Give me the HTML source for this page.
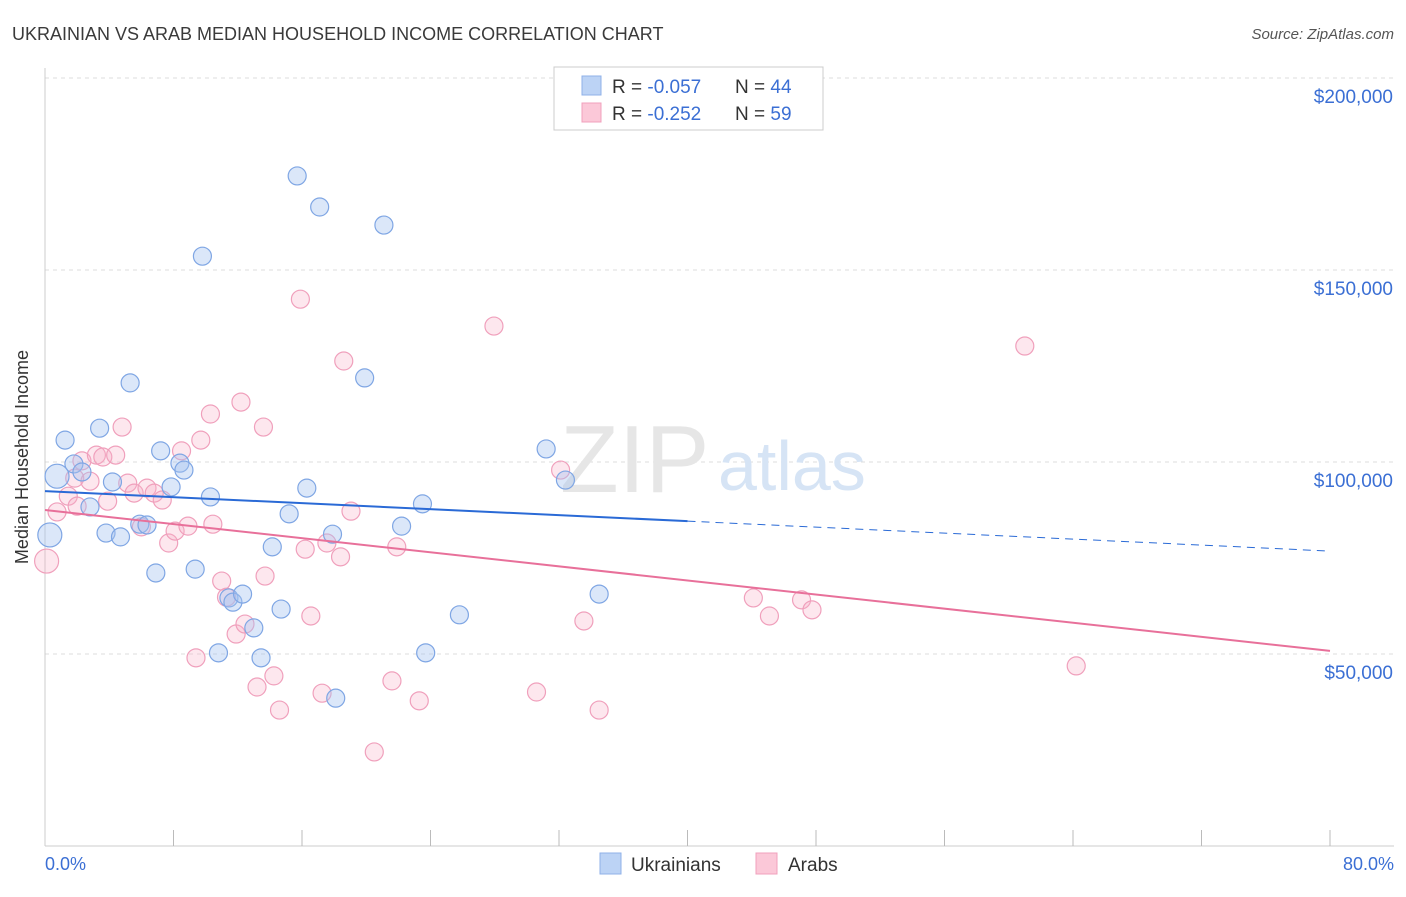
<!DOCTYPE html>
<html><head><meta charset="utf-8"><style>
body{margin:0;background:#fff;font-family:"Liberation Sans",sans-serif}
svg text{font-family:"Liberation Sans",sans-serif}
</style></head><body>
<svg id="chart" width="1406" height="892" xmlns="http://www.w3.org/2000/svg">
<text x="12" y="40" font-size="18" fill="#3a3a3a">UKRAINIAN VS ARAB MEDIAN HOUSEHOLD INCOME CORRELATION CHART</text>
<text x="1394" y="39" font-size="15" fill="#555" text-anchor="end" font-style="italic">Source: ZipAtlas.com</text>
<g id="grid"></g>
<text x="560" y="492" font-size="96" fill="#e6e6e6" font-family="Liberation Serif">ZIP</text>
<text x="718" y="490" font-size="70" fill="#d6e4f5">atlas</text>
<line x1="45" y1="68" x2="45" y2="846" stroke="#ccc"/>
<line x1="45" y1="846" x2="1394" y2="846" stroke="#ccc"/>
<g id="ticks"></g>
<g id="ylabels"></g>
<text x="28" y="457" font-size="18" fill="#333" text-anchor="middle" transform="rotate(-90 28 457)">Median Household Income</text>
<text x="45" y="870" font-size="18" fill="#3b6fd4">0.0%</text>
<text x="1394" y="870" font-size="18" fill="#3b6fd4" text-anchor="end">80.0%</text>
<g id="pts"></g>
<g id="trends"></g>
<g>
<rect x="554" y="67" width="269" height="63" fill="#fff" stroke="#ccc"/>
<rect x="582" y="76" width="19" height="19" fill="#bcd3f5" stroke="#8fb0e8"/>
<rect x="582" y="103" width="19" height="19" fill="#fbc8d8" stroke="#f0a0bc"/>
<text x="612" y="93" font-size="19" fill="#333">R = <tspan fill="#3b6fd4">-0.057</tspan><tspan x="735">N = </tspan><tspan fill="#3b6fd4">44</tspan></text>
<text x="612" y="120" font-size="19" fill="#333">R = <tspan fill="#3b6fd4">-0.252</tspan><tspan x="735">N = </tspan><tspan fill="#3b6fd4">59</tspan></text>
</g>
<g>
<rect x="600" y="853" width="21" height="21" fill="#bcd3f5" stroke="#8fb0e8"/>
<text x="631" y="871" font-size="19" fill="#333">Ukrainians</text>
<rect x="756" y="853" width="21" height="21" fill="#fbc8d8" stroke="#f0a0bc"/>
<text x="788" y="871" font-size="19" fill="#333">Arabs</text>
</g>
</svg>
<script>
const yTicks=[50000,100000,150000,200000];
const yTickLabels=["$50,000","$100,000","$150,000","$200,000"];
const ukrX=[1.25,1.8,2.3,0.75,3.4,2.8,4.2,5.3,3.8,4.7,5.9,6.35,7.2,7.85,6.9,8.4,8.65,9.8,9.35,10.3,10.8,11.45,11.7,12.3,13.0,13.45,14.15,14.7,15.2,15.7,16.3,17.1,17.9,18.1,19.9,21.1,22.2,23.5,23.7,25.8,31.2,32.4,34.5,0.3];
const ukrY=[105.7,99.5,97.4,96.3,108.8,88.3,94.8,120.6,81.5,80.5,83.8,83.6,102.9,93.5,71.1,99.7,97.9,153.6,72.1,90.9,50.3,64.6,63.5,65.6,56.8,49.0,77.9,61.7,86.5,174.5,93.2,166.4,81.2,38.5,121.9,161.7,83.3,89.1,50.3,60.2,103.4,95.3,65.6,81.0];
const ukrBig=[3,43];
const arabX=[0.1,0.75,1.45,1.85,2.3,2.8,3.2,3.6,3.9,4.4,4.8,5.15,5.55,6.0,6.35,6.8,7.3,7.7,8.1,8.5,8.9,9.7,10.3,10.45,9.4,11.0,11.3,11.9,12.2,12.45,13.2,13.6,13.7,14.25,14.6,15.9,16.2,16.55,17.25,17.55,18.4,18.6,19.05,20.5,21.6,21.9,23.3,27.95,30.6,32.1,33.55,34.5,44.1,45.1,47.1,47.75,61.0,64.2,2.0];
const arabY=[74.2,87.0,91.1,95.8,100.3,95.0,101.8,101.3,89.8,101.8,109.1,94.5,91.9,83.1,93.2,91.9,90.1,78.9,82.0,102.9,83.3,105.7,112.5,83.8,49.0,69.0,64.8,55.2,115.6,57.8,41.4,109.1,70.3,44.3,35.4,142.4,77.3,59.9,39.8,78.9,75.3,126.3,87.2,24.5,43.0,77.9,37.8,135.4,40.1,97.9,58.6,35.4,64.6,59.9,64.1,61.5,130.2,46.9,88.5];
const arabBig=[0];
const ukrTrend=[92.4,76.8];
const arabTrend=[87.5,50.8];
const ukrSolidEnd=40;
const NS="http://www.w3.org/2000/svg";
const X=v=>45+v/80*1285;
const Y=k=>846-k*1000/50000*192;
function mk(t,a,p){const e=document.createElementNS(NS,t);for(const k in a)e.setAttribute(k,a[k]);(p||document.getElementById('chart')).appendChild(e);return e;}
const grid=document.getElementById('grid');
yTicks.forEach((v,i)=>{
 const l=mk('line',{x1:45,x2:1394,y1:Y(v/1000),y2:Y(v/1000),stroke:'#ddd','stroke-dasharray':'4,4'},grid);
 
 
 const t=mk('text',{x:1393,y:Y(v/1000)+25,'font-size':19,fill:'#3b6fd4','text-anchor':'end'},document.getElementById('ylabels'));
 t.textContent=yTickLabels[i];
 
 
});
for(let i=1;i<=10;i++){const l=mk('line',{x1:X(i*8),x2:X(i*8),y1:830,y2:846,stroke:'#bbb'},document.getElementById('ticks'));
 
 }
const pts=document.getElementById('pts');
arabX.forEach((x,i)=>{const c=mk('circle',{cx:X(x),cy:Y(arabY[i]),r:arabBig.includes(i)?12:9,fill:'rgba(248,175,200,0.3)',stroke:'#f0a0bc','stroke-width':1.2},pts);
 
 });
ukrX.forEach((x,i)=>{const c=mk('circle',{cx:X(x),cy:Y(ukrY[i]),r:ukrBig.includes(i)?12:9,fill:'rgba(165,196,240,0.4)',stroke:'#7fa6e4','stroke-width':1.2},pts);
 
 });
const tr=document.getElementById('trends');
const uy=x=>ukrTrend[0]+(ukrTrend[1]-ukrTrend[0])*x/80;
let l1=mk('line',{x1:X(0),y1:Y(uy(0)),x2:X(ukrSolidEnd),y2:Y(uy(ukrSolidEnd)),stroke:'#2a6ad6','stroke-width':2},tr);


let l2=mk('line',{x1:X(ukrSolidEnd),y1:Y(uy(ukrSolidEnd)),x2:X(80),y2:Y(uy(80)),stroke:'#2a6ad6','stroke-width':1,'stroke-dasharray':'8,6'},tr);


let l3=mk('line',{x1:X(0),y1:Y(arabTrend[0]),x2:X(80),y2:Y(arabTrend[1]),stroke:'#e8709a','stroke-width':2},tr);


</script>
</body></html>
